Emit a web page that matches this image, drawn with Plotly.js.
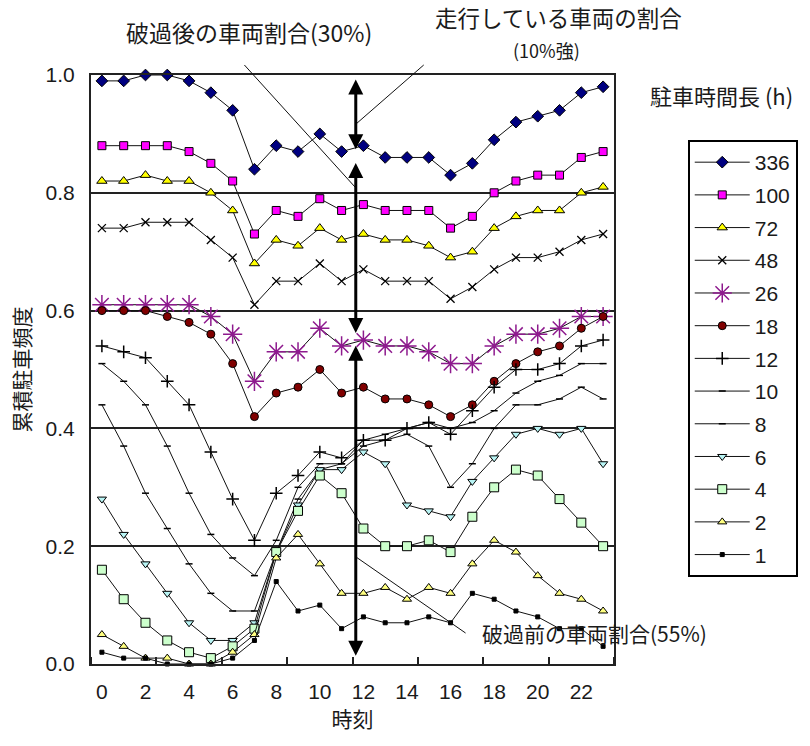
<!DOCTYPE html>
<html><head><meta charset="utf-8">
<script src="https://cdn.plot.ly/plotly-3.0.1.min.js"></script>
<style>html,body{margin:0;padding:0;background:#fff}#chart{width:810px;height:746px}</style>
</head><body><div id="chart"></div>
<script>
// ---- data ----
const hours = [0,1,2,3,4,5,6,7,8,9,10,11,12,13,14,15,16,17,18,19,20,21,22,23];
const xTickVals = [0,2,4,6,8,10,12,14,16,18,20,22];
const xTickText = ['0','2','4','6','8','10','12','14','16','18','20','22'];
const yTickVals = [0,0.2,0.4,0.6,0.8,1.0];
const yTickText = ['0.0','0.2','0.4','0.6','0.8','1.0'];
const seriesNames = ['336','100','72','48','26','18','12','10','8','6','4','2','1'];

const s336 = [0.99,0.99,1.00,1.00,0.99,0.97,0.94,0.84,0.88,0.87,0.90,0.87,0.88,0.86,0.86,0.86,0.83,0.85,0.89,0.92,0.93,0.94,0.97,0.98];
const s100 = [0.88,0.88,0.88,0.88,0.87,0.85,0.82,0.73,0.77,0.76,0.79,0.77,0.78,0.77,0.77,0.77,0.74,0.76,0.80,0.82,0.83,0.83,0.86,0.87];
const s72  = [0.82,0.82,0.83,0.82,0.82,0.80,0.77,0.68,0.72,0.71,0.74,0.72,0.73,0.72,0.72,0.71,0.69,0.70,0.74,0.76,0.77,0.77,0.80,0.81];
const s48  = [0.74,0.74,0.75,0.75,0.75,0.72,0.69,0.61,0.65,0.65,0.68,0.65,0.67,0.65,0.65,0.65,0.62,0.64,0.67,0.69,0.69,0.70,0.72,0.73];
const s26  = [0.61,0.61,0.61,0.61,0.61,0.59,0.56,0.48,0.53,0.53,0.57,0.54,0.55,0.54,0.54,0.53,0.51,0.51,0.54,0.56,0.56,0.57,0.59,0.59];
const s18  = [0.60,0.60,0.60,0.59,0.58,0.56,0.51,0.42,0.46,0.47,0.50,0.46,0.47,0.45,0.45,0.44,0.42,0.44,0.48,0.51,0.53,0.54,0.57,0.59];
const s12  = [0.54,0.53,0.52,0.48,0.44,0.36,0.28,0.21,0.29,0.32,0.36,0.35,0.38,0.38,0.40,0.41,0.39,0.43,0.47,0.50,0.50,0.51,0.54,0.55];
const s10  = [0.51,0.48,0.44,0.37,0.29,0.22,0.18,0.15,0.21,0.30,0.34,0.34,0.38,0.39,0.40,0.41,0.40,0.41,0.43,0.46,0.48,0.49,0.51,0.51];
const s8   = [0.44,0.37,0.29,0.23,0.17,0.12,0.09,0.09,0.19,0.28,0.33,0.34,0.37,0.38,0.39,0.37,0.30,0.34,0.40,0.44,0.44,0.45,0.47,0.45];
const s6   = [0.28,0.22,0.17,0.12,0.07,0.04,0.04,0.07,0.19,0.27,0.33,0.33,0.36,0.34,0.27,0.26,0.25,0.31,0.35,0.39,0.40,0.39,0.40,0.34];
const s4   = [0.16,0.11,0.07,0.04,0.02,0.01,0.03,0.06,0.19,0.26,0.32,0.29,0.23,0.20,0.20,0.21,0.19,0.25,0.30,0.33,0.32,0.28,0.24,0.20];
const s2   = [0.05,0.03,0.01,0.01,0.00,0.00,0.02,0.05,0.18,0.22,0.17,0.12,0.12,0.13,0.11,0.13,0.12,0.17,0.21,0.19,0.15,0.12,0.11,0.09];
const s1   = [0.02,0.01,0.01,0.00,0.00,0.00,0.01,0.04,0.14,0.09,0.10,0.06,0.08,0.07,0.07,0.08,0.07,0.12,0.11,0.09,0.08,0.06,0.06,0.03];
const seriesValues = [s336,s100,s72,s48,s26,s18,s12,s10,s8,s6,s4,s2,s1];

// double arrows at about 12 o'clock (shares of vehicles)
const arrowX    = [11.65, 11.65, 11.65];
const arrowTop  = [0.995, 0.853, 0.543];
const arrowBot  = [0.874, 0.562, 0.014];

// ---- styles ----
const FONT = 'Liberation Sans, Arial, Noto Sans CJK JP, sans-serif';
const CJK = 'Noto Sans CJK JP, Liberation Sans, sans-serif';
const TXT = '#1a1a1a';
const styles = {
  '336': {symbol:'diamond', size:9, color:'#000080', lw:1},
  '100': {symbol:'square', size:8, color:'#FF00FF', lw:1},
  '72':  {symbol:'triangle-up', size:9, color:'#FFFF00', lw:1},
  '48':  {symbol:'x-thin-open', size:8, color:'#000000', lw:1.3},
  '26':  {symbol:'asterisk-open', size:16, color:'#8E1A8E', lw:1.5},
  '18':  {symbol:'circle', size:8, color:'#800000', lw:1},
  '12':  {symbol:'cross-thin-open', size:9, color:'#000000', lw:1.5},
  '10':  {symbol:'line-ew-open', size:5, color:'#000000', lw:1.5},
  '8':   {symbol:'line-ew-open', size:5, color:'#000000', lw:1.5},
  '6':   {symbol:'triangle-down', size:8, color:'#B8F4F4', lw:1},
  '4':   {symbol:'square', size:9, color:'#CCFFCC', lw:1},
  '2':   {symbol:'triangle-up', size:8, color:'#FFFF80', lw:1},
  '1':   {symbol:'square', size:4, color:'#000000', lw:1}
};

const traces = seriesNames.map((name, k) => {
  const st = styles[name];
  const open = st.symbol.indexOf('open') >= 0;
  return {
    type:'scatter', mode:'lines+markers', name:name, legendgroup:name,
    x: hours, y: seriesValues[k],
    line:{color:'#111', width:1},
    marker: open
      ? {symbol:st.symbol, size:st.size, color:st.color, line:{color:st.color, width:st.lw}}
      : {symbol:st.symbol, size:st.size, color:st.color, line:{color:'#000', width:st.lw}},
    cliponaxis:false
  };
});

const annotations = [];
for (let i = 0; i < arrowX.length; i++) {
  annotations.push({
    x: arrowX[i], y: arrowBot[i], ax: arrowX[i], ay: arrowTop[i],
    xref:'x', yref:'y', axref:'x', ayref:'y', text:'', showarrow:true,
    arrowhead:2, startarrowhead:2, arrowside:'end+start', arrowsize:1, startarrowsize:1,
    arrowwidth:3, arrowcolor:'#000', standoff:0, startstandoff:0
  });
}
const txtAnn = (text, x, y, size) => ({
  text:text, x:x, y:y, xref:'paper', yref:'paper', showarrow:false,
  xanchor:'center', yanchor:'middle', font:{family:CJK, size:size, color:TXT}
});
annotations.push(txtAnn('破過後の車両割合(30%)', 0.3029, 1.073, 23));
annotations.push(txtAnn('走行している車両の割合', 0.8943, 1.0985, 22.5));
annotations.push(txtAnn('(10%強)', 0.8705, 1.042, 18));
annotations.push(txtAnn('破過前の車両割合(55%)', 0.9619, 0.0526, 21));
annotations.push(txtAnn('駐車時間長 (h)', 1.2057, 0.966, 22));

const lineShape = (x0,y0,x1,y1) => ({type:'line', xref:'paper', yref:'paper', x0:x0, y0:y0, x1:x1, y1:y1, line:{color:'#111', width:1}});
const shapes = [
  lineShape(0.2933, 1.017, 0.5048, 0.8098),
  lineShape(0.6362, 1.017, 0.5067, 0.9168),
  lineShape(0.5067, 0.1817, 0.7162, 0.0526)
];

const layout = {
  width:810, height:746,
  margin:{l:91, r:194, t:75, b:82},
  paper_bgcolor:'#fff', plot_bgcolor:'#fff',
  font:{family:FONT, size:21, color:TXT},
  showlegend:true,
  legend:{x:1.141, y:0.8896, xanchor:'left', yanchor:'top',
    bordercolor:'#000', borderwidth:2, bgcolor:'#fff',
    font:{family:FONT, size:21, color:TXT}, itemwidth:55, tracegroupgap:2.4},
  xaxis:{range:[-0.5,23.5], tickmode:'array', tickvals:xTickVals, ticktext:xTickText,
    ticks:'', showgrid:false, zeroline:false, showline:true, mirror:true,
    linecolor:'#222', linewidth:2, ticklabelstandoff:8,
    minor:{tickmode:'linear', tick0:-0.5, dtick:3, ticks:'inside', ticklen:7, tickwidth:2, tickcolor:'#222', showgrid:false},
    title:{text:'時刻', font:{family:CJK, size:21, color:TXT}, standoff:10}},
  yaxis:{range:[0,1.0], tickmode:'array', tickvals:yTickVals, ticktext:yTickText,
    ticks:'', showgrid:true, gridcolor:'#222', gridwidth:2, zeroline:false,
    showline:true, mirror:true, linecolor:'#222', linewidth:2, ticklabelstandoff:10,
    title:{text:'累積駐車頻度', font:{family:CJK, size:21, color:TXT}, standoff:9}},
  annotations:annotations, shapes:shapes
};

Plotly.newPlot('chart', traces, layout, {displayModeBar:false, staticPlot:true});
</script></body></html>
